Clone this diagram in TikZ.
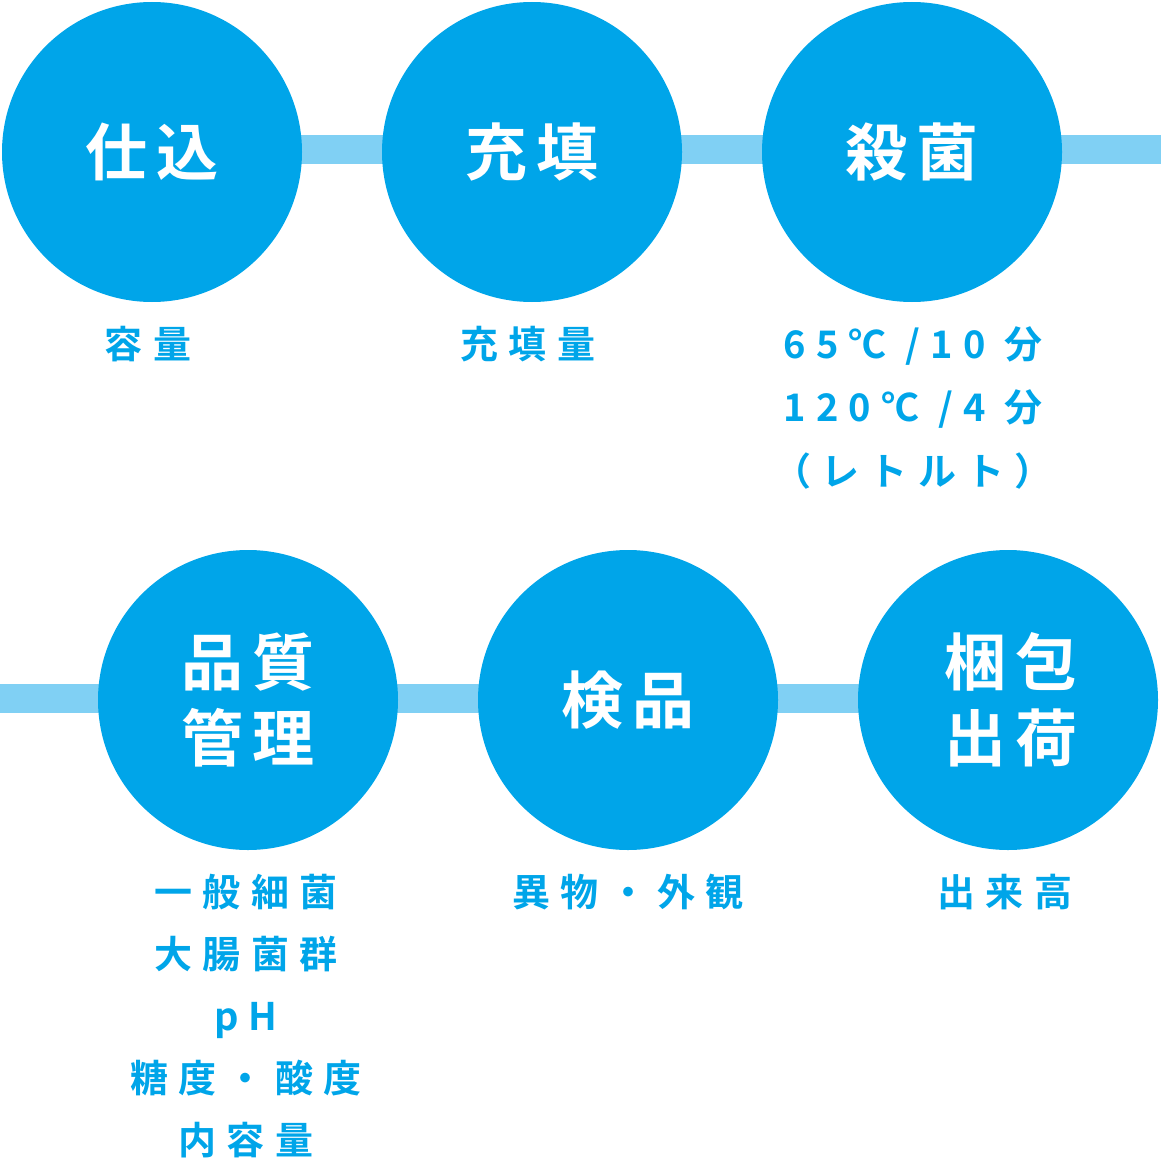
\documentclass[tikz,border=0pt]{standalone}
\usepackage{fontspec}
\newfontfamily\jptitle{Noto Sans CJK JP}[UprightFont=* Bold, LetterSpace=16]
\newfontfamily\jplabel{Noto Sans CJK JP}[UprightFont=* Bold, LetterSpace=27]
\definecolor{circblue}{HTML}{00A5E9}
\definecolor{barblue}{HTML}{80D0F4}
\begin{document}
\begin{tikzpicture}[x=1pt,y=-1pt,
  stepcirc/.style={circle, fill=circblue, draw=none, minimum size=300pt, inner sep=0pt,
    text=white, align=center, font={\jptitle\fontsize{62}{76}\selectfont}},
  steplabel/.style={anchor=north, inner sep=0pt, text=circblue, align=center,
    font={\jplabel\fontsize{38}{62}\selectfont}},
  barline/.style={fill=barblue, draw=none}]
\useasboundingbox (0,0) rectangle (1161,1161);
% bars
\fill[barline] (300,135) rectangle (1161,164);
\fill[barline] (0,684) rectangle (860,713);
% circles
\node[stepcirc] (c1) at (152,152) {仕込};
\node[stepcirc] (c2) at (532,152) {充填};
\node[stepcirc] (c3) at (912,152) {殺菌};
\node[stepcirc] (c4) at (248,700) {品質\\管理};
\node[stepcirc] (c5) at (628,700) {検品};
\node[stepcirc] (c6) at (1008,700) {\hspace*{6pt}梱包\\\hspace*{6pt}出荷};
% labels
\node[steplabel] (l1) at (148,326) {容量};
\node[steplabel] (l2) at (528,326) {充填量};
\node[steplabel, font={\jplabel\fontsize{38}{63.5}\selectfont}] (l3) at (913,326) {65℃ /10 分\\120℃ /4 分\\（レトルト）};
\node[steplabel] (l4) at (246,873.5) {一般細菌\\大腸菌群\\pH\\糖度・酸度\\内容量};
\node[steplabel] (l5) at (628,873.5) {異物・外観};
\node[steplabel] (l6) at (1005,873.5) {出来高};
\end{tikzpicture}
\end{document}
